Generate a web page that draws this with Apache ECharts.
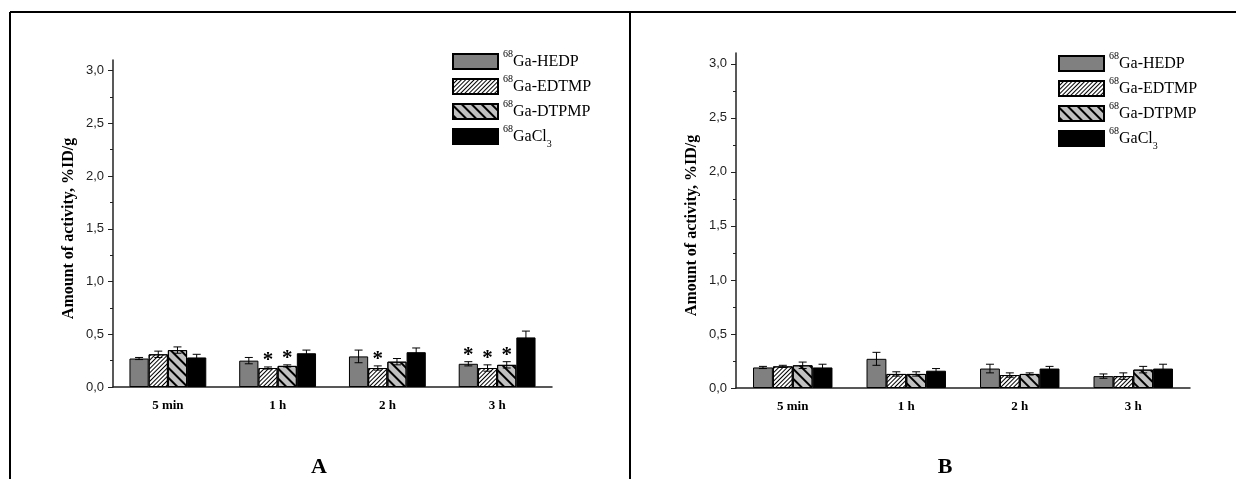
<!DOCTYPE html>
<html>
<head>
<meta charset="utf-8">
<style>
  html, body { margin: 0; padding: 0; background: #fff; }
  #main { width: 1236px; height: 479px; }
</style>
<script src="https://cdn.jsdelivr.net/npm/echarts@6/dist/echarts.min.js"></script>
</head>
<body>
<div id="main"></div>
<script>
// categories and series
var categories = ['5 min', '1 h', '2 h', '3 h'];
var seriesNames = ['68Ga-HEDP', '68Ga-EDTMP', '68Ga-DTPMP', '68GaCl3'];
var legendTexts = ['{sup|68}{t|Ga-HEDP}', '{sup|68}{t|Ga-EDTMP}', '{sup|68}{t|Ga-DTPMP}', '{sup|68}{t|GaCl}{sub|3}'];
var yTicks = [0, 0.5, 1, 1.5, 2, 2.5, 3];
var yMinorTicks = [0.25, 0.75, 1.25, 1.75, 2.25, 2.75];

// panel A
var hedpA = [0.27, 0.25, 0.29, 0.22];
var hedpErrA = [0.01, 0.03, 0.06, 0.02];
var edtmpA = [0.31, 0.18, 0.18, 0.18];
var edtmpErrA = [0.03, 0.01, 0.02, 0.03];
var dtpmpA = [0.35, 0.20, 0.24, 0.21];
var dtpmpErrA = [0.03, 0.01, 0.03, 0.03];
var gaclA = [0.28, 0.32, 0.33, 0.47];
var gaclErrA = [0.03, 0.03, 0.04, 0.06];
// significance marks (*) panel A
var starHedpA = [0, 0, 0, 1];
var starEdtmpA = [0, 1, 1, 1];
var starDtpmpA = [0, 1, 0, 1];
var starGaclA = [0, 0, 0, 0];

// panel B
var hedpB = [0.19, 0.27, 0.18, 0.11];
var hedpErrB = [0.01, 0.06, 0.04, 0.02];
var edtmpB = [0.20, 0.13, 0.12, 0.11];
var edtmpErrB = [0.01, 0.02, 0.02, 0.03];
var dtpmpB = [0.21, 0.13, 0.13, 0.17];
var dtpmpErrB = [0.03, 0.02, 0.01, 0.03];
var gaclB = [0.19, 0.16, 0.18, 0.18];
var gaclErrB = [0.03, 0.02, 0.02, 0.04];
var starNone = [0, 0, 0, 0];

var SERIF = 'Liberation Serif';
var SANS = 'Liberation Sans';
var BAR_FRAC = 0.175;

var barStyles = [
  { color: '#808080', borderColor: '#000', borderWidth: 1 },
  { color: '#ffffff', borderColor: '#000', borderWidth: 1,
    decal: { symbol: 'rect', symbolSize: 1, color: '#000', dashArrayX: [1, 0], dashArrayY: [1, 2], rotation: -Math.PI / 4 } },
  { color: '#c0c0c0', borderColor: '#000', borderWidth: 1,
    decal: { symbol: 'rect', symbolSize: 1, color: '#000', dashArrayX: [1, 0], dashArrayY: [1.2, 5], rotation: Math.PI / 4 } },
  { color: '#000000', borderColor: '#000', borderWidth: 1 }
];

function commaLabel(v) {
  return v.toFixed(1).replace('.', ',');
}

//误差线 + 星号
function renderErr(params, api) {
  var ci = api.value(0);
  var si = api.value(3);
  var band = api.size([1, 0])[0];
  var bw = band * BAR_FRAC;
  var x = api.coord([ci, 0])[0] + (si - 1.5) * bw;
  var yLo = api.coord([ci, api.value(1)])[1];
  var yHi = api.coord([ci, api.value(2)])[1];
  var cap = 4;
  var st = { stroke: '#000', lineWidth: 1 };
  var kids = [
    { type: 'line', shape: { x1: x, y1: yLo, x2: x, y2: yHi }, style: st },
    { type: 'line', shape: { x1: x - cap, y1: yHi, x2: x + cap, y2: yHi }, style: st },
    { type: 'line', shape: { x1: x - cap, y1: yLo, x2: x + cap, y2: yLo }, style: st }
  ];
  if (api.value(4)) {
    kids.push({
      type: 'text', x: x, y: yHi - 6,
      style: { text: '*', fill: '#000', font: 'bold 21px ' + SERIF, align: 'center', verticalAlign: 'middle' }
    });
  }
  return { type: 'group', children: kids };
}

var series = [];
var xAxes = [];
var yAxes = [];
var grids = [];
var legends = [];

function addPanel(gi, grid, legendPos, values, errs, stars, yMax) {
  grids.push(grid);
  // main category axis (labels + center ticks)
  xAxes.push({
    type: 'category', gridIndex: gi, position: 'bottom', data: categories,
    axisLine: { lineStyle: { color: '#222', width: 1.5 } },
    axisTick: { alignWithLabel: true, length: 6, lineStyle: { color: '#222' } },
    axisLabel: { margin: 12, color: '#000', fontFamily: SERIF, fontWeight: 'bold', fontSize: 13 }
  });
  // boundary ticks
  xAxes.push({
    type: 'category', gridIndex: gi, position: 'bottom', data: categories,
    axisLine: { show: false },
    axisTick: { alignWithLabel: false, length: 4, lineStyle: { color: '#222' } },
    axisLabel: { show: false }
  });
  yAxes.push({
    type: 'value', gridIndex: gi, position: 'left', min: 0, max: yMax, interval: 0.5,
    name: 'Amount of activity, %ID/g', nameLocation: 'middle', nameGap: 36,
    nameTextStyle: { fontFamily: SERIF, fontWeight: 'bold', fontSize: 16, color: '#000', padding: [0, 10, 0, 0] },
    axisLine: { show: true, lineStyle: { color: '#222', width: 1.5 } },
    axisTick: { show: true, length: 5, customValues: yTicks, lineStyle: { color: '#222' } },
    axisLabel: { customValues: yTicks, formatter: commaLabel, margin: 9, color: '#222', fontFamily: SANS, fontSize: 13 },
    splitLine: { show: false }
  });
  yAxes.push({
    type: 'value', gridIndex: gi, position: 'left', min: 0, max: yMax,
    axisLine: { show: false },
    axisTick: { show: true, length: 3, customValues: yMinorTicks, lineStyle: { color: '#222' } },
    axisLabel: { show: false },
    splitLine: { show: false }
  });
  var errData = [];
  for (var s = 0; s < 4; s++) {
    series.push({
      name: seriesNames[s], type: 'bar',
      xAxisIndex: gi * 2, yAxisIndex: gi * 2,
      barWidth: (BAR_FRAC * 100) + '%', barGap: '0%',
      itemStyle: barStyles[s],
      data: values[s]
    });
    for (var c = 0; c < categories.length; c++) {
      errData.push([c, values[s][c] - errs[s][c], values[s][c] + errs[s][c], s, stars[s][c]]);
    }
  }
  series.push({
    type: 'custom', xAxisIndex: gi * 2, yAxisIndex: gi * 2,
    renderItem: renderErr, encode: { x: 0, y: [1, 2] },
    data: errData, z: 5, silent: true
  });
  legends.push({
    orient: 'vertical', left: legendPos[0], top: legendPos[1],
    itemWidth: 45, itemHeight: 15, itemGap: 4, icon: 'rect',
    data: seriesNames,
    formatter: function (name) { return legendTexts[seriesNames.indexOf(name)]; },
    textStyle: {
      rich: {
        t: { fontFamily: SERIF, fontSize: 16, lineHeight: 25, color: '#000', verticalAlign: 'middle' },
        sup: { fontFamily: SERIF, fontSize: 10, lineHeight: 10, color: '#000', verticalAlign: 'top' },
        sub: { fontFamily: SERIF, fontSize: 10, lineHeight: 7, color: '#000', verticalAlign: 'bottom' }
      }
    }
  });
}

addPanel(0, { left: 113, width: 439, top: 60, height: 327 }, [447, 44],
  [hedpA, edtmpA, dtpmpA, gaclA], [hedpErrA, edtmpErrA, dtpmpErrA, gaclErrA],
  [starHedpA, starEdtmpA, starDtpmpA, starGaclA], 3.1);
addPanel(1, { left: 736, width: 454, top: 53, height: 335 }, [1053, 46],
  [hedpB, edtmpB, dtpmpB, gaclB], [hedpErrB, edtmpErrB, dtpmpErrB, gaclErrB],
  [starNone, starNone, starNone, starNone], 3.1);

var chart = echarts.init(document.getElementById('main'));
var option = {
  animation: false,
  backgroundColor: '#fff',
  grid: grids,
  xAxis: xAxes,
  yAxis: yAxes,
  legend: legends,
  series: series,
  graphic: [
    // 外框
    { type: 'line', shape: { x1: 10, y1: 12, x2: 1236, y2: 12 }, style: { stroke: '#000', lineWidth: 2 } },
    { type: 'line', shape: { x1: 10, y1: 12, x2: 10, y2: 479 }, style: { stroke: '#000', lineWidth: 2 } },
    { type: 'line', shape: { x1: 630, y1: 12, x2: 630, y2: 479 }, style: { stroke: '#000', lineWidth: 2 } },
    { type: 'text', x: 319, y: 467, style: { text: 'A', font: 'bold 22px ' + SERIF, fill: '#000', align: 'center', verticalAlign: 'middle' } },
    { type: 'text', x: 945, y: 467, style: { text: 'B', font: 'bold 22px ' + SERIF, fill: '#000', align: 'center', verticalAlign: 'middle' } }
  ]
};
chart.setOption(option);
</script>
</body>
</html>
